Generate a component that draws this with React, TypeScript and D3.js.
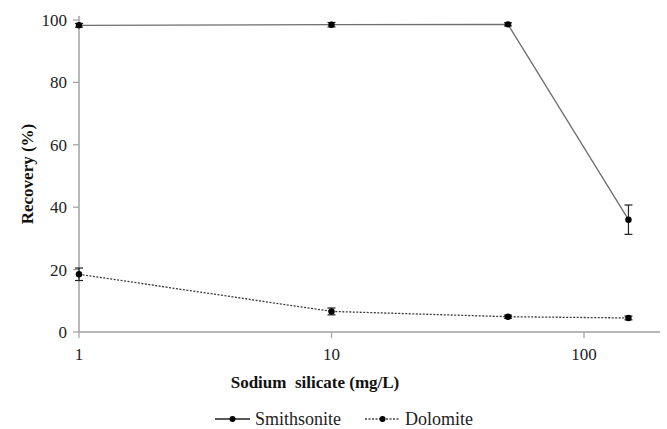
import * as d3 from "d3";

const dosages = [1, 10, 50, 150];
const smithsonite = [98.3, 98.5, 98.6, 36];
const smithsoniteErr = [0.6, 0.7, 0.5, 4.7];
const dolomite = [18.5, 6.6, 4.9, 4.5];
const dolomiteErr = [2.0, 1.1, 0.5, 0.6];
const yTicks = [0, 20, 40, 60, 80, 100];
const xTicks = [1, 10, 100];

const W = 667;
const H = 429;
const left = 79;
const right = 660;
const top = 20;
const bottom = 332;
const font = "Liberation Serif, Tinos, Times New Roman, DejaVu Serif, Noto Serif, serif";

export default function App() {
  const x = d3.scaleLog().domain([1, 200]).range([left, right]);
  const y = d3.scaleLinear().domain([0, 100]).range([bottom, top]);

  const line = d3
    .line<number>()
    .x((_, i) => x(dosages[i]))
    .y((d) => y(d));

  const series = [
    { name: "Smithsonite", values: smithsonite, err: smithsoniteErr, dash: undefined, stroke: "#6e6e6e" },
    { name: "Dolomite", values: dolomite, err: dolomiteErr, dash: "2,1.5", stroke: "#3a3a3a" },
  ];

  const legendX = [215, 365];
  const legendY = 419;

  return (
    <svg
      width={W}
      height={H}
      style={{ position: "absolute", left: 0, top: 0, background: "#fff", fontFamily: font }}
    >
      {/* axes */}
      <line x1={left} x2={left} y1={top - 4} y2={bottom} stroke="#a0a0a0" strokeWidth={1.5} />
      <line x1={left} x2={right} y1={bottom} y2={bottom} stroke="#a0a0a0" strokeWidth={1.5} />
      {yTicks.map((t) => (
        <g key={t}>
          <line x1={left - 6} x2={left} y1={y(t)} y2={y(t)} stroke="#a0a0a0" strokeWidth={1.2} />
          <text x={left - 12} y={y(t)} dy="0.35em" textAnchor="end" fontSize={17} fill="#222" style={{ fontFamily: font }}>
            {t}
          </text>
        </g>
      ))}
      {xTicks.map((t) => (
        <g key={t}>
          <line x1={x(t)} x2={x(t)} y1={bottom} y2={bottom + 6} stroke="#a0a0a0" strokeWidth={1.2} />
          <text x={x(t)} y={bottom + 28} textAnchor="middle" fontSize={17} fill="#222" style={{ fontFamily: font }}>
            {t}
          </text>
        </g>
      ))}

      {/* series */}
      {series.map((s) => (
        <g key={s.name}>
          <path d={line(s.values) ?? ""} fill="none" stroke={s.stroke} strokeWidth={1.3} strokeDasharray={s.dash} />
          {s.values.map((v, i) => {
            const cx = x(dosages[i]);
            const e = s.err[i];
            return (
              <g key={i}>
                <line x1={cx} x2={cx} y1={y(v - e)} y2={y(v + e)} stroke="#222" strokeWidth={1.2} />
                <line x1={cx - 4} x2={cx + 4} y1={y(v - e)} y2={y(v - e)} stroke="#222" strokeWidth={1.2} />
                <line x1={cx - 4} x2={cx + 4} y1={y(v + e)} y2={y(v + e)} stroke="#222" strokeWidth={1.2} />
                <circle cx={cx} cy={y(v)} r={3.2} fill="#000" />
              </g>
            );
          })}
        </g>
      ))}

      {/* axis titles */}
      <text
        x={315}
        y={388}
        textAnchor="middle"
        fontSize={17}
        fontWeight="bold"
        fill="#111"
        style={{ whiteSpace: "pre", fontFamily: font }}
      >
        {"Sodium  silicate (mg/L)"}
      </text>
      <text
        transform={`translate(27, ${174}) rotate(-90)`}
        textAnchor="middle"
        dy="0.35em"
        fontSize={17}
        fontWeight="bold"
        fill="#111"
        style={{ fontFamily: font }}
      >
        Recovery (%)
      </text>

      {/* legend */}
      {series.map((s, i) => (
        <g key={s.name} transform={`translate(${legendX[i]}, ${legendY})`}>
          <line x1={0} x2={35} y1={0} y2={0} stroke={i === 0 ? "#222" : "#444"} strokeWidth={1.3} strokeDasharray={s.dash} />
          <circle cx={17.5} cy={0} r={3} fill="#000" />
          <text x={40} y={0} dy="0.35em" fontSize={18} fill="#222" style={{ fontFamily: font }}>
            {s.name}
          </text>
        </g>
      ))}
    </svg>
  );
}
